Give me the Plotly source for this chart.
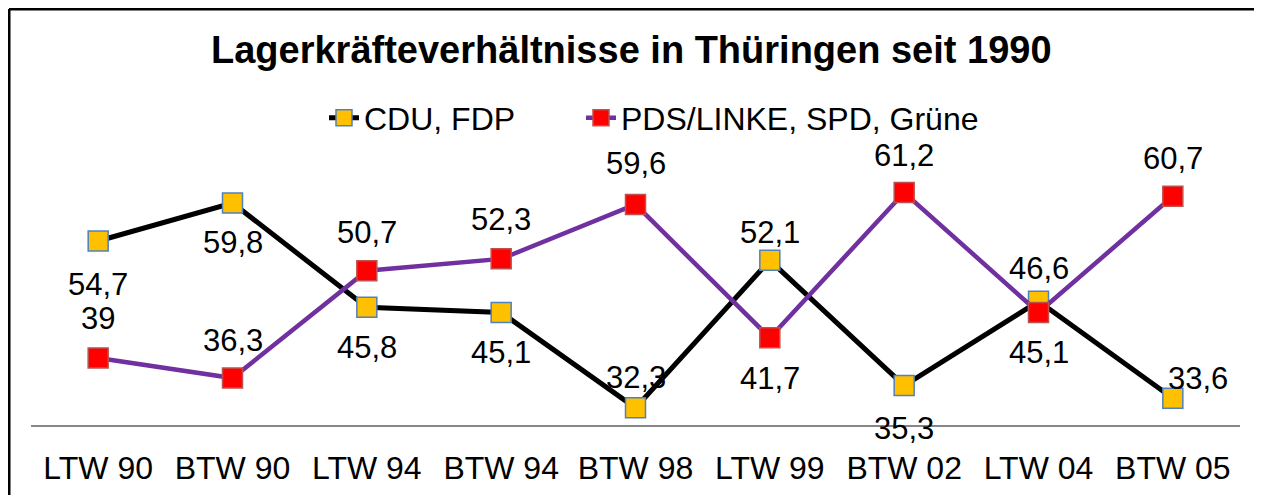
import plotly.graph_objects as go

categories = ["LTW 90", "BTW 90", "LTW 94", "BTW 94", "BTW 98", "LTW 99", "BTW 02", "LTW 04", "BTW 05"]
cdu_fdp = [54.7, 59.8, 45.8, 45.1, 32.3, 52.1, 35.3, 46.6, 33.6]
pds_spd_gruene = [39.0, 36.3, 50.7, 52.3, 59.6, 41.7, 61.2, 45.1, 60.7]
series_names = ["CDU, FDP", "PDS/LINKE, SPD, Grüne"]
title_text = "Lagerkräfteverhältnisse in Thüringen seit 1990"

# label offsets (style): (xshift, yshift) in px
cdu_label_shift = [(0, -44), (0, -40), (0, -40), (0, -40), (0, 30), (0, 28), (0, -43), (0, 33), (25, 20)]
pds_label_shift = [(0, 39), (0, 38), (0, 38), (0, 39), (0, 41), (0, -41), (0, 37), (0, -40), (0, 38)]

FONT = "Arial, 'Liberation Sans', sans-serif"


def fmt(v):
    s = f"{v:.1f}".replace(".", ",")
    if s.endswith(",0"):
        s = s[:-2]
    return s


fig = go.Figure()
fig.add_trace(go.Scatter(
    x=categories, y=cdu_fdp, name=series_names[0], mode="lines+markers",
    line=dict(color="#000000", width=5), legend="legend",
    marker=dict(symbol="square", size=20, color="#FFC000", line=dict(color="#4F81BD", width=1.5)),
))
fig.add_trace(go.Scatter(
    x=categories, y=pds_spd_gruene, name=series_names[1], mode="lines+markers",
    line=dict(color="#7030A0", width=4.5), legend="legend2",
    marker=dict(symbol="square", size=20, color="#FF0000", line=dict(color="#C0504D", width=1.5)),
))

annotations = []
for vals, shifts in ((cdu_fdp, cdu_label_shift), (pds_spd_gruene, pds_label_shift)):
    for c, v, (dx, dy) in zip(categories, vals, shifts):
        annotations.append(dict(
            x=c, y=v, xref="x", yref="y", text=fmt(v), showarrow=False,
            xshift=dx, yshift=dy, font=dict(family=FONT, size=31, color="#000000"),
        ))

# figure geometry (figure pixel coordinates; page adds 8px body margin)
W, H = 1262, 495
L, R, T, B = 23, 30, 119, 78
pw, ph = W - L - R, H - T - B


def px(xp):
    return (xp - L) / pw


def py(yp):
    return (H - B - yp) / ph


annotations.append(dict(
    x=px(623), y=py(42), xref="paper", yref="paper", text=f"<b>{title_text}</b>",
    showarrow=False, xanchor="center", yanchor="middle",
    font=dict(family=FONT, size=38, color="#000000"),
))

legend_style = dict(
    orientation="h", yanchor="middle", xanchor="left",
    font=dict(family=FONT, size=32, color="#000000"), bgcolor="rgba(0,0,0,0)",
)

border = dict(color="#000000", width=3)

fig.update_layout(
    width=W, height=H,
    margin=dict(l=L, r=R, t=T, b=B, autoexpand=False),
    paper_bgcolor="white", plot_bgcolor="white",
    showlegend=True,
    legend=dict(x=px(316), y=py(110), **legend_style),
    legend2=dict(x=px(573), y=py(110), **legend_style),
    xaxis=dict(
        type="category", range=[-0.5, len(categories) - 0.5],
        showline=True, linecolor="#868686", linewidth=2, showgrid=False,
        ticks="", tickfont=dict(family=FONT, size=32, color="#000000"),
        ticklabelstandoff=14, zeroline=False, fixedrange=True,
    ),
    yaxis=dict(range=[30, 70], visible=False, showgrid=False, zeroline=False),
    annotations=annotations,
    shapes=[
        dict(type="line", xref="paper", yref="paper", x0=px(1), x1=px(1300), y0=py(1), y1=py(1),
             line=border, layer="above"),
        dict(type="line", xref="paper", yref="paper", x0=px(1), x1=px(1), y0=py(1), y1=py(540),
             line=border, layer="above"),
    ],
    hovermode=False,
)

fig.write_html("out.html", config={"displayModeBar": False})
